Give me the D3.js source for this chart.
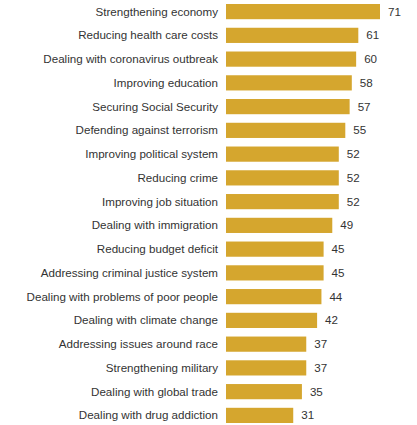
<!DOCTYPE html>
<html>
<head>
<meta charset="utf-8">
<script src="https://cdn.jsdelivr.net/npm/d3@7"></script>
<style>
  html, body { margin: 0; padding: 0; background: #fff; }
  svg { display: block; }
  text { font-family: "Liberation Sans", Arial, sans-serif; fill: #333; }
</style>
</head>
<body>
<svg id="chart" width="417" height="425"></svg>
<script>
const categories = [
  "Strengthening economy",
  "Reducing health care costs",
  "Dealing with coronavirus outbreak",
  "Improving education",
  "Securing Social Security",
  "Defending against terrorism",
  "Improving political system",
  "Reducing crime",
  "Improving job situation",
  "Dealing with immigration",
  "Reducing budget deficit",
  "Addressing criminal justice system",
  "Dealing with problems of poor people",
  "Dealing with climate change",
  "Addressing issues around race",
  "Strengthening military",
  "Dealing with global trade",
  "Dealing with drug addiction"
];
const values = [71, 61, 60, 58, 57, 55, 52, 52, 52, 49, 45, 45, 44, 42, 37, 37, 35, 31];

const svg = d3.select("#chart");
const plotLeft = 226, plotTop = 4, plotBottom = 423;

const x = d3.scaleLinear().domain([0, 71]).range([plotLeft, plotLeft + 154]);
const y = d3.scaleBand()
  .domain(categories)
  .range([plotTop, plotBottom])
  .paddingInner(0.36)
  .paddingOuter(0);

const rows = svg.append("g").selectAll("g")
  .data(categories.map((c, i) => ({ cat: c, val: values[i] })))
  .join("g");

rows.append("rect")
  .attr("x", x(0))
  .attr("y", d => y(d.cat))
  .attr("width", d => x(d.val) - x(0))
  .attr("height", y.bandwidth())
  .attr("fill", "#D5A62E");

rows.append("text")
  .attr("x", x(0) - 8)
  .attr("y", d => y(d.cat) + y.bandwidth() / 2)
  .attr("dy", "0.35em")
  .attr("text-anchor", "end")
  .attr("font-size", 11.6)
  .text(d => d.cat);

rows.append("text")
  .attr("x", d => x(d.val) + 8)
  .attr("y", d => y(d.cat) + y.bandwidth() / 2)
  .attr("dy", "0.35em")
  .attr("font-size", 11.6)
  .text(d => d.val);
</script>
</body>
</html>
